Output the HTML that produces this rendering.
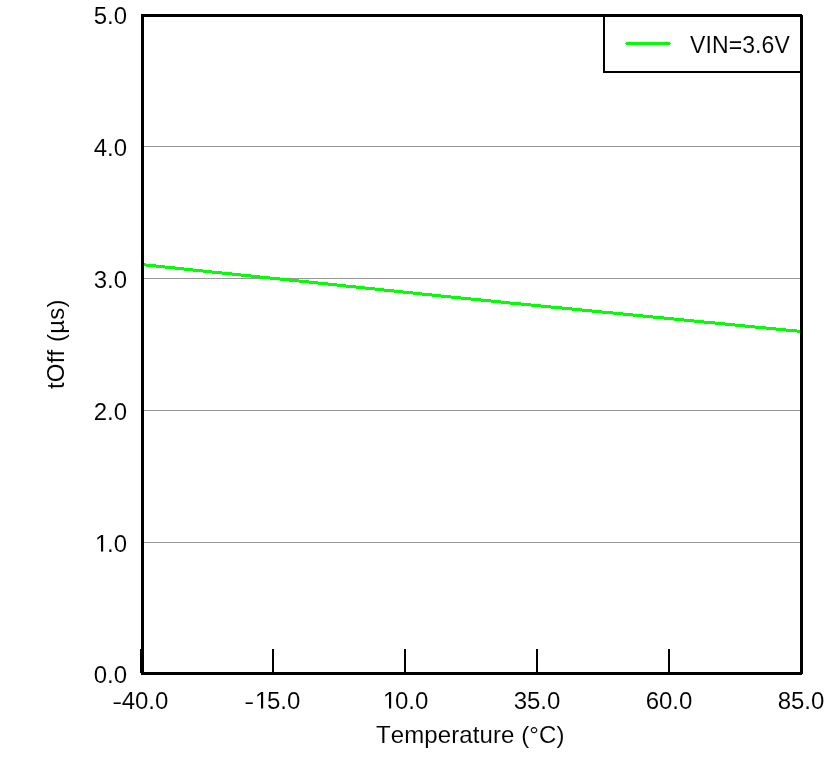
<!DOCTYPE html>
<html><head><meta charset="utf-8"><title>chart</title>
<style>
html,body{margin:0;padding:0;background:#fff;}
body{width:839px;height:764px;position:relative;overflow:hidden;font-family:"Liberation Sans",sans-serif;font-size:24px;color:#000;line-height:24px;font-kerning:none;}
div{position:absolute;white-space:nowrap;}
.frame{left:141px;top:14px;width:656px;height:655px;border:3px solid #000;}
.nt{width:1px;height:1px;background:#fff;}
.g{left:144px;width:656px;height:1px;background:#999;}
.t{top:649px;width:2px;height:24px;background:#000;}
.yl,.xl,.legtxt,.xt,.yt{will-change:transform;-webkit-text-stroke:0.07px #fff;}
.yl{left:27px;width:100px;text-align:right;}
.hy{display:inline-block;transform:scaleX(1.25);transform-origin:85% 50%;}
.xl{top:689px;width:100px;text-align:center;}
.leg{left:603px;top:16px;width:198px;height:57px;border:2px solid #000;border-top:none;border-right:none;box-sizing:border-box;}
.legtxt{left:690px;top:33px;font-size:23px;letter-spacing:0.1px;}
.xt{left:376px;top:723px;letter-spacing:0.1px;}
.yt{left:0;top:0;transform-origin:0 0;transform:translate(44px,389px) rotate(-90deg);letter-spacing:0.2px;word-spacing:0.7px;}
svg.ln{position:absolute;left:0;top:0;}
svg.one{display:inline-block;vertical-align:baseline;position:relative;top:-0.55px;left:1.35px;width:0.5562em;height:0.688em;overflow:visible;}
</style></head><body>
<div class="g" style="top:146px"></div><div class="g" style="top:278px"></div><div class="g" style="top:410px"></div><div class="g" style="top:542px"></div>
<svg class="ln" width="839" height="764" shape-rendering="crispEdges" fill="#00ff00"><rect x="626" y="42" width="44" height="3"/><rect x="625" y="43" width="46" height="1"/><rect x="144" y="263" width="2" height="3"/><rect x="146" y="264" width="10" height="3"/><rect x="156" y="265" width="9" height="3"/><rect x="165" y="266" width="10" height="3"/><rect x="175" y="267" width="9" height="3"/><rect x="184" y="268" width="9" height="3"/><rect x="193" y="269" width="10" height="3"/><rect x="203" y="270" width="9" height="3"/><rect x="212" y="271" width="10" height="3"/><rect x="222" y="272" width="10" height="3"/><rect x="232" y="273" width="9" height="3"/><rect x="241" y="274" width="10" height="3"/><rect x="251" y="275" width="9" height="3"/><rect x="260" y="276" width="10" height="3"/><rect x="270" y="277" width="10" height="3"/><rect x="280" y="278" width="9" height="3"/><rect x="289" y="279" width="10" height="3"/><rect x="299" y="280" width="10" height="3"/><rect x="309" y="281" width="9" height="3"/><rect x="318" y="282" width="10" height="3"/><rect x="328" y="283" width="9" height="3"/><rect x="337" y="284" width="9" height="3"/><rect x="346" y="285" width="10" height="3"/><rect x="356" y="286" width="9" height="3"/><rect x="365" y="287" width="10" height="3"/><rect x="375" y="288" width="9" height="3"/><rect x="384" y="289" width="10" height="3"/><rect x="394" y="290" width="9" height="3"/><rect x="403" y="291" width="10" height="3"/><rect x="413" y="292" width="9" height="3"/><rect x="422" y="293" width="10" height="3"/><rect x="432" y="294" width="9" height="3"/><rect x="441" y="295" width="10" height="3"/><rect x="451" y="296" width="10" height="3"/><rect x="461" y="297" width="10" height="3"/><rect x="471" y="298" width="10" height="3"/><rect x="481" y="299" width="10" height="3"/><rect x="491" y="300" width="10" height="3"/><rect x="501" y="301" width="9" height="3"/><rect x="510" y="302" width="11" height="3"/><rect x="521" y="303" width="10" height="3"/><rect x="531" y="304" width="10" height="3"/><rect x="541" y="305" width="10" height="3"/><rect x="551" y="306" width="11" height="3"/><rect x="562" y="307" width="10" height="3"/><rect x="572" y="308" width="10" height="3"/><rect x="582" y="309" width="10" height="3"/><rect x="592" y="310" width="10" height="3"/><rect x="602" y="311" width="11" height="3"/><rect x="613" y="312" width="10" height="3"/><rect x="623" y="313" width="10" height="3"/><rect x="633" y="314" width="10" height="3"/><rect x="643" y="315" width="10" height="3"/><rect x="653" y="316" width="11" height="3"/><rect x="664" y="317" width="10" height="3"/><rect x="674" y="318" width="10" height="3"/><rect x="684" y="319" width="10" height="3"/><rect x="694" y="320" width="10" height="3"/><rect x="704" y="321" width="11" height="3"/><rect x="715" y="322" width="10" height="3"/><rect x="725" y="323" width="10" height="3"/><rect x="735" y="324" width="10" height="3"/><rect x="745" y="325" width="10" height="3"/><rect x="755" y="326" width="11" height="3"/><rect x="766" y="327" width="10" height="3"/><rect x="776" y="328" width="10" height="3"/><rect x="786" y="329" width="11" height="3"/><rect x="797" y="330" width="3" height="3"/></svg>
<div class="frame"></div>
<div class="nt" style="left:802px;top:14px"></div><div class="nt" style="left:802px;top:674px"></div>
<div class="t" style="left:140px"></div><div class="t" style="left:272px"></div><div class="t" style="left:404px"></div><div class="t" style="left:536px"></div><div class="t" style="left:668px"></div><div class="t" style="left:800px"></div>
<div class="yl" style="top:4px">5.0</div><div class="yl" style="top:136px">4.0</div><div class="yl" style="top:268px">3.0</div><div class="yl" style="top:400px">2.0</div><div class="yl" style="top:532px"><svg class="one" viewBox="0 0 1139 1409"><path d="M512 1409V172L197 399V229L530 0H696V1409Z" fill="#000"/></svg>.0</div><div class="yl" style="top:663px">0.0</div>
<div class="xl" style="left:90.5px"><span class="hy">-</span>40.0</div><div class="xl" style="left:222.5px"><span class="hy">-</span><svg class="one" viewBox="0 0 1139 1409"><path d="M512 1409V172L197 399V229L530 0H696V1409Z" fill="#000"/></svg>5.0</div><div class="xl" style="left:354.5px"><svg class="one" viewBox="0 0 1139 1409"><path d="M512 1409V172L197 399V229L530 0H696V1409Z" fill="#000"/></svg>0.0</div><div class="xl" style="left:486.5px">35.0</div><div class="xl" style="left:618.5px">60.0</div><div class="xl" style="left:750.8px">85.0</div>
<div class="leg"></div>
<div class="legtxt">VIN=3.6V</div>
<div class="xt">Temperature (°C)</div>
<div class="yt">tOff (µs)</div>
</body></html>
